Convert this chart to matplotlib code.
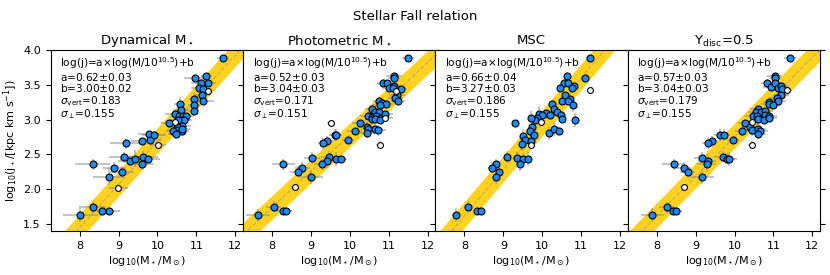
import matplotlib
matplotlib.use("Agg")
import matplotlib.pyplot as plt
import numpy as np

# ---------------- data ----------------
titles = ["Dynamical M$_\\star$", "Photometric M$_\\star$", "MSC", "$\\Upsilon_{\\rm disc}$=0.5"]
fit_a = [0.62, 0.52, 0.66, 0.57]
fit_a_err = [0.03, 0.03, 0.04, 0.03]
fit_b = [3.00, 3.04, 3.27, 3.04]
fit_b_err = [0.02, 0.03, 0.03, 0.03]
sig_vert = [0.183, 0.171, 0.186, 0.179]
sig_perp = [0.155, 0.151, 0.155, 0.155]

# Panel 1: dynamical
x1 = [11.69, 10.97, 11.26, 11.31, 11.11, 11.06, 11.18, 11.29, 11.15, 11.16, 10.95, 10.94, 10.93,
      10.57, 10.61, 10.44, 10.56, 10.66, 10.74, 10.63, 10.68, 10.53, 10.45, 10.29, 10.62, 10.49,
      10.47, 10.41, 10.62, 10.47, 10.64, 9.79, 9.91, 9.82, 9.61, 10.02, 9.18, 9.14, 9.29, 9.43,
      9.62, 9.76, 9.61, 8.34, 8.89, 9.09, 8.74, 8.99, 8.33, 8.01, 8.58, 8.74]
y1 = [3.89, 3.60, 3.62, 3.52, 3.53, 3.46, 3.44, 3.41, 3.35, 3.27, 3.30, 3.21, 3.12,
      3.23, 3.14, 3.08, 3.05, 3.05, 3.05, 3.00, 2.99, 3.00, 2.97, 2.95, 2.91, 2.89,
      2.85, 2.84, 2.84, 2.80, 2.87, 2.79, 2.78, 2.71, 2.69, 2.64, 2.66, 2.46, 2.41, 2.44,
      2.47, 2.44, 2.36, 2.36, 2.31, 2.25, 2.18, 2.02, 1.74, 1.63, 1.69, 1.69]
xe1 = [0.15, 0.3, 0.15, 0.2, 0.25, 0.2, 0.2, 0.15, 0.2, 0.3, 0.15, 0.15, 0.15,
       0.15, 0.2, 0.25, 0.2, 0.2, 0.2, 0.2, 0.2, 0.2, 0.2, 0.2, 0.25, 0.2,
       0.2, 0.2, 0.2, 0.2, 0.2, 0.3, 0.3, 0.3, 0.3, 0.2, 0.4, 0.4, 0.3, 0.4,
       0.4, 0.3, 0.3, 0.45, 0.3, 0.3, 0.4, 0.25, 0.35, 0.45, 0.3, 0.3]
ye1 = [0.03, 0.05, 0.05, 0.05, 0.05, 0.05, 0.05, 0.05, 0.05, 0.05, 0.08, 0.05, 0.05,
       0.1, 0.05, 0.05, 0.05, 0.05, 0.05, 0.05, 0.05, 0.05, 0.05, 0.05, 0.08, 0.05,
       0.08, 0.05, 0.08, 0.08, 0.05, 0.05, 0.05, 0.05, 0.05, 0.05, 0.08, 0.08, 0.08, 0.12,
       0.08, 0.05, 0.08, 0.08, 0.08, 0.08, 0.12, 0.05, 0.08, 0.1, 0.05, 0.05]
hollow1 = [7, 22, 35, 47]

# Panel 2: photometric
x2 = [11.49, 11.13, 11.14, 10.85, 10.95, 11.14, 11.02, 11.12, 11.31, 11.19, 11.21, 11.17, 11.23,
      10.74, 10.84, 10.93, 10.78, 10.58, 10.65, 10.76, 10.47, 10.58, 10.67, 10.80, 10.58, 10.66,
      10.77, 10.91, 10.90, 10.26, 10.12, 10.44, 10.48, 10.44, 10.66, 10.73, 9.52, 9.62, 9.64,
      9.42, 9.32, 9.96, 10.77, 9.03, 9.47, 9.42, 9.29, 9.64, 9.78, 8.29, 8.78, 8.67, 9.00,
      8.58, 8.04, 7.64, 8.28, 8.36]
y2 = [3.89, 3.62, 3.60, 3.53, 3.52, 3.48, 3.46, 3.46, 3.44, 3.41, 3.35, 3.31, 3.27,
      3.27, 3.24, 3.22, 3.21, 3.15, 3.11, 3.11, 3.05, 3.04, 3.05, 3.03, 3.01, 3.01,
      3.00, 3.02, 3.08, 2.95, 2.84, 2.89, 2.86, 2.81, 2.87, 2.85, 2.95, 2.78, 2.78,
      2.69, 2.66, 2.71, 2.64, 2.45, 2.47, 2.41, 2.36, 2.44, 2.44, 2.36, 2.31, 2.25, 2.18,
      2.03, 1.75, 1.63, 1.69, 1.69]
xe2 = [0.15, 0.2, 0.15, 0.15, 0.2, 0.2, 0.2, 0.2, 0.15, 0.15, 0.2, 0.2, 0.2,
       0.15, 0.2, 0.2, 0.2, 0.2, 0.2, 0.2, 0.2, 0.2, 0.2, 0.2, 0.2, 0.2,
       0.2, 0.2, 0.2, 0.2, 0.2, 0.2, 0.2, 0.2, 0.2, 0.2, 0.1, 0.15, 0.15,
       0.15, 0.15, 0.15, 0.1, 0.2, 0.2, 0.2, 0.2, 0.2, 0.15, 0.3, 0.2, 0.2, 0.3,
       0.1, 0.2, 0.3, 0.2, 0.15]
ye2 = [0.03, 0.05, 0.05, 0.05, 0.05, 0.05, 0.05, 0.05, 0.05, 0.05, 0.05, 0.05, 0.05,
       0.05, 0.05, 0.05, 0.05, 0.05, 0.08, 0.05, 0.05, 0.05, 0.05, 0.05, 0.08, 0.05,
       0.05, 0.05, 0.05, 0.05, 0.05, 0.08, 0.08, 0.08, 0.08, 0.08, 0.05, 0.08, 0.08,
       0.08, 0.08, 0.05, 0.05, 0.08, 0.08, 0.1, 0.08, 0.1, 0.05, 0.08, 0.08, 0.08, 0.1,
       0.05, 0.08, 0.08, 0.05, 0.05]
hollow2 = [9, 27, 36, 42, 53]

# Panel 3: MSC
x3 = [11.24, 11.09, 10.63, 10.57, 10.67, 10.45, 10.83, 10.77, 11.24, 10.58, 10.72, 10.50, 10.67,
      10.80, 10.25, 10.30, 10.11, 10.37, 10.49, 10.52, 10.84, 9.92, 10.00, 10.20, 9.86, 9.81,
      9.96, 9.70, 9.30, 9.75, 9.68, 10.17, 10.30, 10.43, 9.50, 9.79, 9.57, 9.70, 9.48, 9.71,
      9.10, 9.35, 9.50, 9.64, 9.42, 8.81, 8.70, 8.89, 8.81, 8.08, 7.77, 8.31, 8.43]
y3 = [3.89, 3.60, 3.63, 3.52, 3.53, 3.46, 3.48, 3.45, 3.42, 3.35, 3.30, 3.27, 3.27,
      3.21, 3.23, 3.15, 3.09, 3.11, 3.07, 3.01, 3.00, 3.08, 3.06, 3.06, 3.02, 2.99,
      2.96, 3.02, 2.95, 2.89, 2.84, 2.81, 2.86, 2.84, 2.77, 2.78, 2.71, 2.70, 2.65, 2.63,
      2.47, 2.45, 2.44, 2.44, 2.36, 2.36, 2.31, 2.25, 2.18, 1.75, 1.63, 1.69, 1.69]
xe3 = [0.05, 0.05, 0.05, 0.05, 0.05, 0.05, 0.05, 0.05, 0.05, 0.05, 0.05, 0.05, 0.05,
       0.05, 0.05, 0.05, 0.05, 0.05, 0.05, 0.05, 0.05, 0.05, 0.05, 0.05, 0.05, 0.05,
       0.05, 0.05, 0.05, 0.05, 0.05, 0.05, 0.05, 0.05, 0.05, 0.05, 0.05, 0.05, 0.05, 0.05,
       0.05, 0.1, 0.05, 0.05, 0.05, 0.1, 0.1, 0.05, 0.1, 0.1, 0.1, 0.05, 0.05]
ye3 = [0.03, 0.05, 0.05, 0.05, 0.05, 0.05, 0.05, 0.05, 0.05, 0.05, 0.08, 0.05, 0.05,
       0.1, 0.05, 0.05, 0.05, 0.05, 0.05, 0.05, 0.1, 0.1, 0.05, 0.05, 0.05, 0.05,
       0.05, 0.1, 0.05, 0.1, 0.1, 0.1, 0.1, 0.05, 0.1, 0.1, 0.1, 0.1, 0.1, 0.05,
       0.08, 0.08, 0.08, 0.1, 0.1, 0.08, 0.08, 0.1, 0.1, 0.08, 0.1, 0.05, 0.05]
hollow3 = [8, 26, 39]

# Panel 4: Upsilon_disc = 0.5
x4 = [11.42, 11.03, 11.05, 10.83, 10.94, 11.04, 11.11, 11.20, 11.23, 11.34, 11.19, 11.09, 11.13,
      10.88, 10.88, 11.00, 10.61, 10.54, 10.68, 10.78, 10.47, 10.59, 10.78, 10.88, 10.61, 10.76,
      10.89, 10.46, 10.28, 10.40, 10.46, 10.20, 10.61, 10.66, 10.61, 9.63, 9.73, 9.96, 9.42,
      9.31, 10.45, 9.15, 9.32, 9.28, 9.69, 9.80, 9.86, 8.43, 8.69, 8.79, 9.16, 8.70, 8.26,
      7.88, 8.41, 8.50]
y4 = [3.89, 3.62, 3.60, 3.53, 3.47, 3.52, 3.46, 3.48, 3.44, 3.42, 3.35, 3.31, 3.27,
      3.26, 3.22, 3.21, 3.15, 3.11, 3.11, 3.12, 3.05, 3.05, 3.06, 3.05, 3.01, 3.00,
      3.03, 2.96, 2.95, 2.90, 2.85, 2.84, 2.87, 2.84, 2.80, 2.78, 2.78, 2.71, 2.69,
      2.66, 2.64, 2.45, 2.41, 2.36, 2.47, 2.44, 2.44, 2.36, 2.31, 2.25, 2.18, 2.03, 1.74,
      1.63, 1.69, 1.69]
xe4 = [0.15, 0.2, 0.15, 0.15, 0.2, 0.2, 0.2, 0.2, 0.15, 0.15, 0.2, 0.2, 0.2,
       0.15, 0.2, 0.2, 0.2, 0.2, 0.2, 0.2, 0.2, 0.2, 0.2, 0.2, 0.2, 0.2,
       0.2, 0.15, 0.2, 0.2, 0.2, 0.2, 0.2, 0.2, 0.2, 0.15, 0.15, 0.15, 0.15,
       0.15, 0.1, 0.2, 0.2, 0.25, 0.2, 0.2, 0.2, 0.3, 0.2, 0.2, 0.3, 0.1, 0.2,
       0.3, 0.2, 0.15]
ye4 = [0.03, 0.05, 0.05, 0.05, 0.05, 0.05, 0.05, 0.05, 0.05, 0.05, 0.05, 0.05, 0.05,
       0.05, 0.05, 0.05, 0.05, 0.05, 0.08, 0.05, 0.05, 0.05, 0.05, 0.05, 0.08, 0.05,
       0.05, 0.05, 0.05, 0.05, 0.08, 0.08, 0.08, 0.08, 0.08, 0.08, 0.08, 0.05, 0.08,
       0.08, 0.05, 0.08, 0.1, 0.1, 0.08, 0.08, 0.1, 0.08, 0.08, 0.08, 0.1, 0.05, 0.08,
       0.1, 0.05, 0.05]
hollow4 = [9, 27, 40, 51]

xs = [x1, x2, x3, x4]
ys = [y1, y2, y3, y4]
xes = [xe1, xe2, xe3, xe4]
yes = [ye1, ye2, ye3, ye4]
hollows = [hollow1, hollow2, hollow3, hollow4]

xticks = [8, 9, 10, 11, 12]
yticks = [1.5, 2.0, 2.5, 3.0, 3.5, 4.0]

# ---------------- plot ----------------
fig, axes = plt.subplots(1, 4, figsize=(8.3, 2.75), dpi=100, sharey=True)
fig.subplots_adjust(left=0.061, right=0.988, top=0.818, bottom=0.16, wspace=0)

blue = "#1a8cff"
band_col = "#ffd21f"
xl = (7.25, 12.2)

for i, ax in enumerate(axes):
    x = np.array(xs[i]); y = np.array(ys[i])
    xe = np.array(xes[i]); ye = np.array(yes[i])
    hol = np.zeros(len(x), bool); hol[hollows[i]] = True

    xx = np.linspace(6.5, 13, 50)
    yy = fit_a[i] * (xx - 10.5) + fit_b[i]
    ax.fill_between(xx, yy - sig_vert[i], yy + sig_vert[i], color=band_col, lw=0, zorder=1)
    ax.plot(xx, yy, ls="--", color="#b0a070", lw=0.8, alpha=0.8, zorder=2)

    ax.errorbar(x, y, xerr=xe, yerr=ye, fmt="none", ecolor="#8c8c8c", elinewidth=1.2,
                alpha=0.6, zorder=3)
    ax.plot(x[~hol], y[~hol], "o", ms=5, mfc=blue, mec="black", mew=0.8, ls="none", zorder=4)
    ax.plot(x[hol], y[hol], "o", ms=4.2, mfc="white", mec="black", mew=0.8, ls="none", zorder=4)

    txt = "\n".join(["log(j)=a$\\times$log(M/10$^{10.5}$)+b",
                     f"a={fit_a[i]:.2f}$\\pm${fit_a_err[i]:.2f}",
                     f"b={fit_b[i]:.2f}$\\pm${fit_b_err[i]:.2f}",
                     f"$\\sigma_{{\\rm vert}}$={sig_vert[i]:.3f}",
                     f"$\\sigma_\\perp$={sig_perp[i]:.3f}"])
    ax.text(0.05, 0.97, txt, transform=ax.transAxes, va="top", ha="left",
            fontsize=7.6, linespacing=0.95, zorder=5)

    ax.set_xlim(*xl)
    ax.set_ylim(1.4, 4.0)
    ax.set_xticks(xticks)
    ax.set_yticks(yticks)
    ax.tick_params(labelsize=8, direction="out", length=3.5)
    ax.tick_params(axis="y", right=True)
    ax.set_title(titles[i], fontsize=9.5, pad=4)
    ax.set_xlabel("log$_{10}$(M$_\\star$/M$_\\odot$)", fontsize=8, labelpad=2)

axes[0].set_ylabel("log$_{10}$(j$_\\star$/[kpc km s$^{-1}$])", fontsize=8, labelpad=2)
fig.suptitle("Stellar Fall relation", fontsize=9.5, y=0.965)

fig.savefig("out.png", dpi=100)
